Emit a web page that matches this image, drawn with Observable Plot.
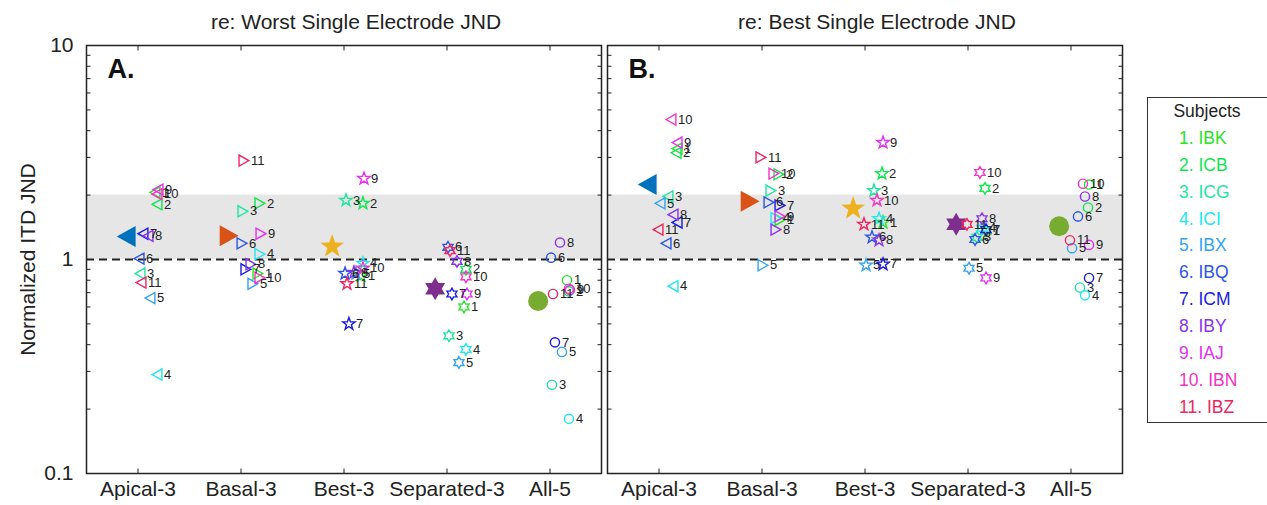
<!DOCTYPE html>
<html>
<head>
<meta charset="utf-8">
<script src="https://cdn.jsdelivr.net/npm/d3@7"></script>
<script src="https://cdn.jsdelivr.net/npm/@observablehq/plot@0.6"></script>
<style>
  body { margin: 0; background: #fff; font-family: "Liberation Sans", Arial, Helvetica, sans-serif; }
  #wrap { position: relative; width: 1267px; height: 505px; overflow: hidden; }
  #legend { position: absolute; left: 1147px; top: 97px; width: 124px; height: 326px;
            border: 1.5px solid #333; box-sizing: border-box; background: #fff;
            font-size: 17.5px; }
  #legend .row { height: 26.9px; line-height: 26.9px; white-space: nowrap; }
  #legend .head { text-align: center; color: #222; padding-right: 4px; }
  #legend .item { padding-left: 31px; }
</style>
</head>
<body>
<div id="wrap"><div id="chart"></div><div id="legend"></div></div>
<script>
// ---------- data ----------
const categories = ["Apical-3", "Basal-3", "Best-3", "Separated-3", "All-5"];
const panels = ["worst", "best"];
const panelTitles = ["re: Worst Single Electrode JND", "re: Best Single Electrode JND"];
const panelLetters = ["A.", "B."];
const subjects = ["IBK", "ICB", "ICG", "ICI", "IBX", "IBQ", "ICM", "IBY", "IAJ", "IBN", "IBZ"];
const subjectColors = ["#29e329", "#10e650", "#1ee6a0", "#22e6f0", "#33a3f2", "#2b55e6",
                       "#1a1ae6", "#8833f0", "#e033f0", "#f533c4", "#f0245f"];
const meanColors = ["#0072BD", "#D95319", "#EDB120", "#7E2F8E", "#77AC30"];
const yTickValues = [0.1, 1, 10];
const bandLow = 1, bandHigh = 2, referenceLine = 1;

// horizontal jitter of each subject within a category (category units)
const jitterWorst = [0.165, 0.184, 0.019, 0.184, 0.116, 0.010, 0.048, 0.097, 0.194, 0.184, 0.029];
const jitterBest  = [0.175, 0.165, 0.087, 0.136, 0.010, 0.068, 0.175, 0.136, 0.175, 0.116, -0.010];
const meanJitter = -0.115;

// values per subject (1..11) — panel A (re: worst)
const worstApical    = [2.06, 1.81, 0.86, 0.29, 0.66, 1.01, 1.32, 1.29, 2.12, 2.02, 0.78];
const worstBasal     = [0.86, 1.83, 1.68, 1.06, 0.77, 1.19, 0.90, 0.95, 1.32, 0.82, 2.90];
const worstBest      = [0.84, 1.83, 1.89, 0.96, 0.86, 0.86, 0.50, 0.87, 2.39, 0.91, 0.77];
const worstSeparated = [0.60, 0.90, 0.44, 0.38, 0.33, 1.14, 0.69, 0.98, 0.69, 0.83, 1.10];
const worstAll       = [0.80, 0.71, 0.26, 0.18, 0.37, 1.02, 0.41, 1.20, 0.72, 0.73, 0.69];
const worstMeans     = [1.28, 1.29, 1.15, 0.73, 0.64];

// panel B (re: best)
const bestApical    = [3.30, 3.15, 1.97, 0.75, 1.83, 1.19, 1.49, 1.62, 3.52, 4.51, 1.38];
const bestBasal     = [1.53, 2.50, 2.10, 1.56, 0.94, 1.85, 1.79, 1.38, 1.59, 2.52, 3.00];
const bestBest      = [1.49, 2.52, 2.10, 1.55, 0.94, 1.27, 0.95, 1.23, 3.52, 1.89, 1.46];
const bestSeparated = [1.36, 2.15, 1.27, 1.40, 0.91, 1.24, 1.38, 1.55, 0.82, 2.55, 1.46];
const bestAll       = [2.24, 1.75, 0.74, 0.68, 1.13, 1.59, 0.82, 1.97, 1.17, 2.26, 1.23];
const bestMeans     = [2.24, 1.87, 1.73, 1.46, 1.43];

// ---------- tables built from the arrays ----------
const seriesByPanel = {
  worst: [worstApical, worstBasal, worstBest, worstSeparated, worstAll],
  best:  [bestApical, bestBasal, bestBest, bestSeparated, bestAll]
};
const jitterByPanel = { worst: jitterWorst, best: jitterBest };
const meansByPanel = { worst: worstMeans, best: bestMeans };

const rows = [];
const meanRows = [];
panels.forEach(p => {
  categories.forEach((c, ci) => {
    seriesByPanel[p][ci].forEach((v, si) => {
      rows.push({ panel: p, cat: ci, x: ci + jitterByPanel[p][si], value: v, subject: si, label: String(si + 1) });
    });
    meanRows.push({ panel: p, cat: ci, x: ci + meanJitter, value: meansByPanel[p][ci] });
  });
});

// ---------- marker shapes ----------
function polySymbol(points) {
  return { draw(ctx, size) {
    const r = Math.sqrt(size / Math.PI);
    points.forEach(([px, py], i) => i ? ctx.lineTo(px * r, py * r) : ctx.moveTo(px * r, py * r));
    ctx.closePath();
  }};
}
function starPoints(n, inner) {
  const pts = [];
  for (let k = 0; k < 2 * n; k++) {
    const a = -Math.PI / 2 + k * Math.PI / n;
    const rr = k % 2 ? inner : 1;
    pts.push([rr * Math.cos(a), rr * Math.sin(a)]);
  }
  return pts;
}
const triLeft = polySymbol([[-0.9, 0], [0.9, -1], [0.9, 1]]);
const triRight = polySymbol([[0.9, 0], [-0.9, -1], [-0.9, 1]]);
const pentagram = polySymbol(starPoints(5, 0.40));
const hexagram = polySymbol(starPoints(6, 0.577));
const circleSym = { draw(ctx, size) { const r = Math.sqrt(size / Math.PI); ctx.moveTo(r, 0); ctx.arc(0, 0, r, 0, 2 * Math.PI); } };
const catSymbols = [triLeft, triRight, pentagram, hexagram, circleSym];
const subjectR = [5.5, 5.5, 6.5, 5.8, 4.6];
const meanR = [10.5, 10.5, 12.5, 11.5, 10];

const tickIn = (dx, dy) => ({ draw(ctx) { ctx.moveTo(0, 0); ctx.lineTo(dx, dy); } });

const xDomain = [-0.5, categories.length - 0.5];
const yDomain = [0.1, 10];
const yMinor = d3.scaleLog().domain(yDomain).ticks();
const xTicks = d3.range(categories.length);

// ---------- marks ----------
const marks = [
  Plot.rect([{ lo: bandLow, hi: bandHigh }], { y1: "lo", y2: "hi", fill: "#e6e6e6" }),
  Plot.ruleY([referenceLine], { stroke: "#222", strokeWidth: 2, strokeDasharray: "8,5" }),
  // inward ticks
  Plot.dot(yMinor, { x: () => xDomain[0], y: d => d, symbol: tickIn(4, 0), stroke: "#222", fill: "none", strokeWidth: 1 }),
  Plot.dot(yMinor, { x: () => xDomain[1], y: d => d, symbol: tickIn(-4, 0), stroke: "#222", fill: "none", strokeWidth: 1 }),
  Plot.dot(xTicks, { x: d => d, y: () => yDomain[0], symbol: tickIn(0, -5), stroke: "#222", fill: "none", strokeWidth: 1 }),
  Plot.dot(xTicks, { x: d => d, y: () => yDomain[1], symbol: tickIn(0, 5), stroke: "#222", fill: "none", strokeWidth: 1 }),
];

categories.forEach((c, ci) => {
  marks.push(Plot.dot(meanRows.filter(d => d.cat === ci), {
    fx: "panel", x: "x", y: "value", symbol: catSymbols[ci], r: meanR[ci],
    fill: meanColors[ci], stroke: "none"
  }));
});
categories.forEach((c, ci) => {
  marks.push(Plot.dot(rows.filter(d => d.cat === ci), {
    fx: "panel", x: "x", y: "value", symbol: catSymbols[ci], r: subjectR[ci],
    stroke: d => subjectColors[d.subject], fill: "none", strokeWidth: 1.4
  }));
});
marks.push(Plot.text(rows, {
  fx: "panel", x: "x", y: "value", text: "label", dx: 7, textAnchor: "start",
  fontSize: 13, fill: "#222"
}));
marks.push(Plot.text(panels.map((p, i) => ({ panel: p, letter: panelLetters[i] })), {
  fx: "panel", text: "letter", frameAnchor: "top-left", dx: 21, dy: 13,
  fontSize: 27, fontWeight: "bold", fill: "#111"
}));
marks.push(Plot.frame({ stroke: "#222", strokeWidth: 1.5 }));
marks.push(Plot.axisFx({ anchor: "top", label: null, tickSize: 0, tickPadding: 17, fontSize: 21, dx: 12,
  tickFormat: d => panelTitles[panels.indexOf(d)], fill: "#222" }));
marks.push(Plot.axisX({ ticks: xTicks, tickFormat: i => categories[i], tickSize: 0, tickPadding: 8,
  fontSize: 21, label: null, fill: "#222" }));
marks.push(Plot.axisY({ ticks: yTickValues, tickFormat: d => String(d), tickSize: 0, tickPadding: 13,
  fontSize: 21, label: "Normalized ITD JND", labelAnchor: "center", labelArrow: "none", labelOffset: 66, fill: "#222" }));

const chart = Plot.plot({
  width: 1267, height: 505,
  marginLeft: 86, marginRight: 144, marginTop: 45, marginBottom: 32,
  style: { fontFamily: "'Liberation Sans', Arial, Helvetica, sans-serif", background: "white", overflow: "visible" },
  fx: { domain: panels, padding: 0.0115 },
  x: { domain: xDomain },
  y: { type: "log", domain: yDomain },
  marks
});
document.getElementById("chart").appendChild(chart);

// ---------- legend ----------
const legend = document.getElementById("legend");
const head = document.createElement("div");
head.className = "row head";
head.textContent = "Subjects";
legend.appendChild(head);
subjects.forEach((s, i) => {
  const r = document.createElement("div");
  r.className = "row item";
  r.style.color = subjectColors[i];
  r.textContent = `${i + 1}. ${s}`;
  legend.appendChild(r);
});
</script>
</body>
</html>
